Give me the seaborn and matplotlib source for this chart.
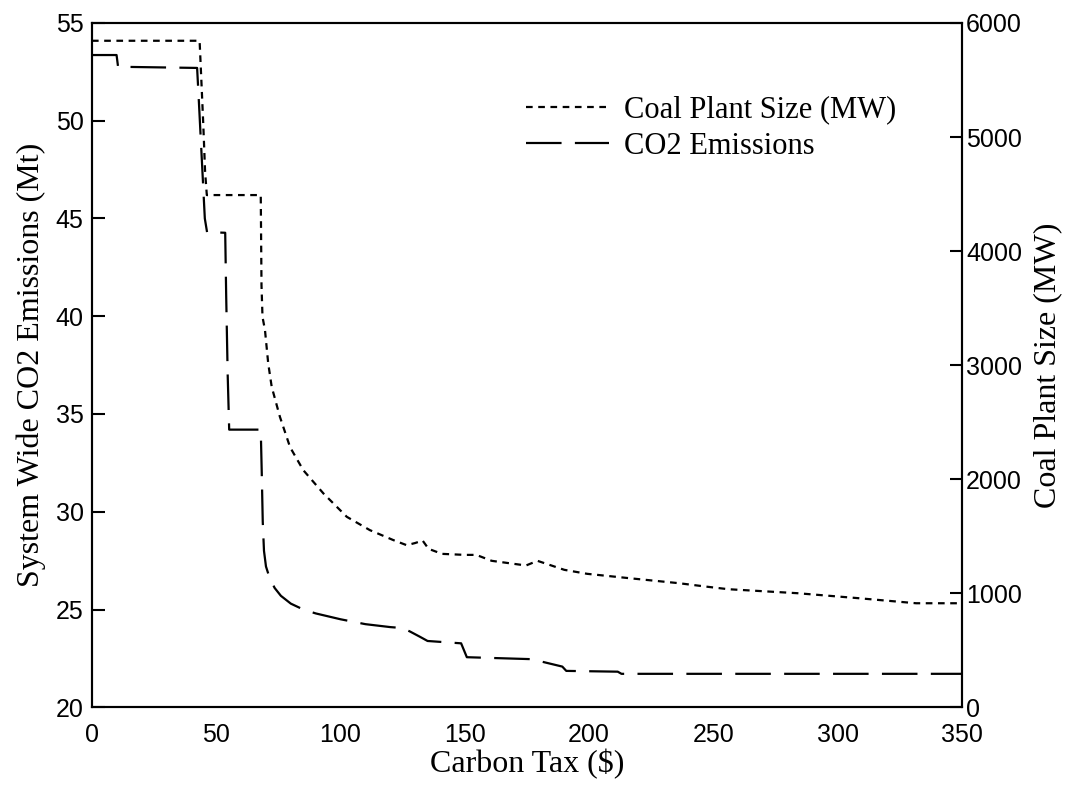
import numpy as np
import pandas as pd
import seaborn as sns
import matplotlib.pyplot as plt

## Data
# CO2 emissions (left axis, Mt)
tax_co2 = [0, 9.9, 10.5, 42.3, 43.0, 43.8, 44.6, 45.4, 46.3, 53.6, 54.0, 54.6, 55.2,
           67.9, 68.3, 68.7, 69.2, 70.0, 71.5, 73.5, 76, 80, 85, 90, 100, 110, 120,
           125, 128, 132, 135, 148.5, 150.8, 176.8, 189.2, 190.8, 211.5, 213, 350]
co2 = [53.36, 53.36, 52.76, 52.7, 51.0, 49.0, 47.0, 45.0, 44.3, 44.27, 41, 37, 34.2,
       34.2, 32.0, 29.5, 28.0, 27.2, 26.6, 26.1, 25.7, 25.3, 25.0, 24.8, 24.5, 24.25, 24.1,
       24.05, 23.87, 23.6, 23.39, 23.27, 22.56, 22.46, 22.08, 21.86, 21.82, 21.71, 21.71]

# coal plant size (right axis, MW)
tax_coal = [0, 43.3, 44.0, 44.8, 45.5, 46.2, 67.9, 68.2, 68.6, 69.6, 70.9, 72.3, 75.6,
            79.7, 85, 93.1, 102.5, 111.8, 121.2, 126.6, 130, 133, 135.4, 140.8, 150,
            154.6, 160.8, 174.6, 179.2, 190, 199.2, 216, 236, 247, 256, 283.8, 308.5,
            331.5, 350]
coal = [5844, 5844, 5500, 5100, 4700, 4491, 4491, 3700, 3423, 3307, 3015, 2810, 2547,
        2280, 2079, 1875, 1670, 1553, 1466, 1421, 1440, 1462, 1389, 1345, 1336,
        1336, 1284, 1243, 1284, 1205, 1170, 1132, 1088, 1058, 1035, 1000, 956,
        912, 912]

x_ticks = [0, 50, 100, 150, 200, 250, 300, 350]
left_ticks = [20, 25, 30, 35, 40, 45, 50, 55]
right_ticks = [0, 1000, 2000, 3000, 4000, 5000, 6000]

df_co2 = pd.DataFrame({'tax': tax_co2, 'co2': co2})
df_coal = pd.DataFrame({'tax': tax_coal, 'coal': coal})

sns.set_style('white')
plt.rcParams['font.family'] = ['Liberation Serif', 'DejaVu Serif']
plt.rcParams['text.color'] = 'black'
plt.rcParams['axes.labelcolor'] = 'black'
plt.rcParams['xtick.color'] = 'black'
plt.rcParams['ytick.color'] = 'black'
tick_font = ['Liberation Sans', 'DejaVu Sans']

fig, ax = plt.subplots(figsize=(10.73, 7.92), dpi=100)
fig.subplots_adjust(left=0.0857, right=0.8966, top=0.971, bottom=0.107)
ax2 = ax.twinx()

sns.lineplot(data=df_co2, x='tax', y='co2', ax=ax, color='black', lw=1.6,
             estimator=None, sort=False, linestyle=(0, (16, 6)),
             label='CO2 Emissions', legend=False)
sns.lineplot(data=df_coal, x='tax', y='coal', ax=ax2, color='black', lw=1.6,
             estimator=None, sort=False, linestyle=(0, (3, 2.5)),
             label='Coal Plant Size (MW)', legend=False)

ax.set_xlim(0, 350)
ax.set_ylim(20, 55)
ax2.set_ylim(0, 6000)
ax.set_xticks(x_ticks)
ax.set_yticks(left_ticks)
ax2.set_yticks(right_ticks)

for a in (ax, ax2):
    for s in a.spines.values():
        s.set_color('black')
        s.set_linewidth(1.5)
    for lab in a.get_xticklabels() + a.get_yticklabels():
        lab.set_family(tick_font)
        lab.set_fontsize(18)
        lab.set_color('black')

ax.tick_params(axis='both', direction='in', length=9, width=1.5, color='black', pad=6)
ax.tick_params(axis='x', pad=11)
ax2.tick_params(axis='y', direction='in', length=9, width=1.5, color='black', pad=3)

ax.set_xlabel('Carbon Tax ($)', fontsize=23, labelpad=2)
ax.set_ylabel('System Wide CO2 Emissions (Mt)', fontsize=23, labelpad=7)
ax2.set_ylabel('Coal Plant Size (MW)', fontsize=23, labelpad=8)

h1, l1 = ax2.get_legend_handles_labels()
h2, l2 = ax.get_legend_handles_labels()
ax2.legend(h1 + h2, l1 + l2, loc='upper left', bbox_to_anchor=(0.485, 0.912),
           frameon=False, fontsize=22, handlelength=2.7, handletextpad=0.5,
           labelspacing=0.25, borderaxespad=0)

plt.savefig('out.png', dpi=100)
